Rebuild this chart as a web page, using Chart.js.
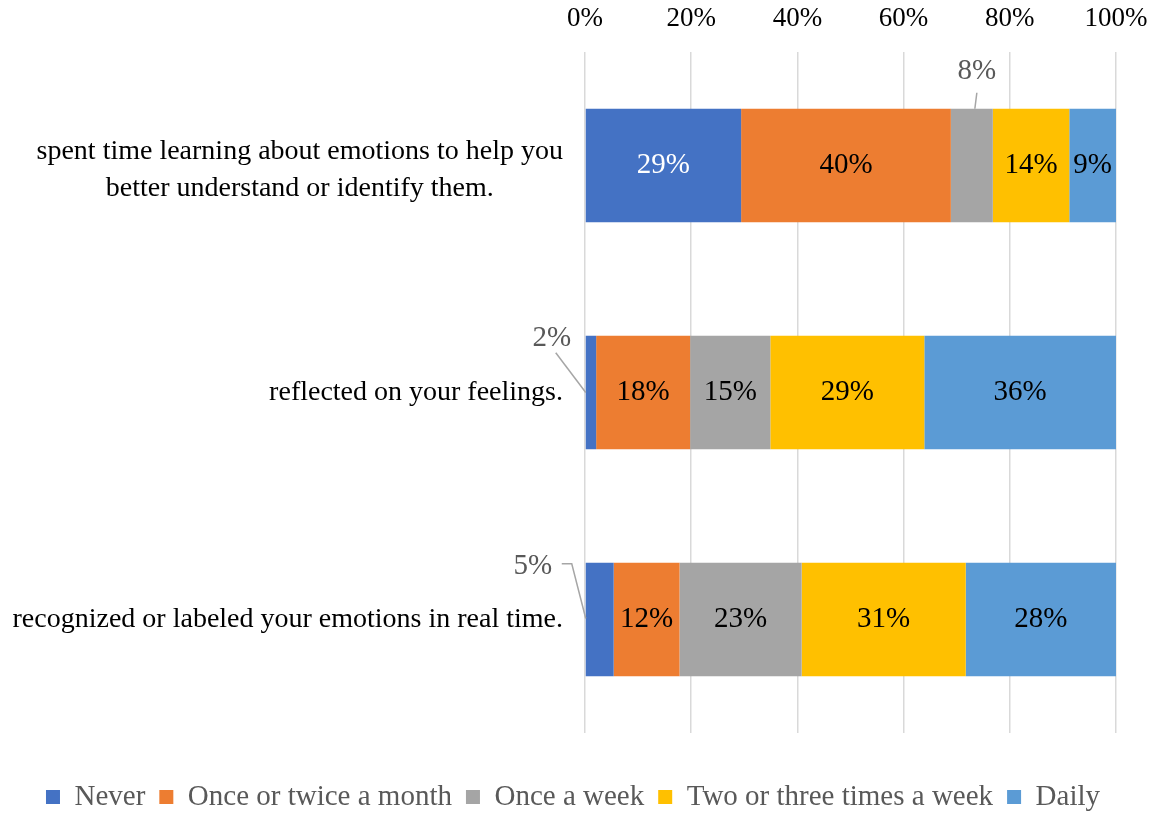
<!DOCTYPE html>
<html>
<head>
<meta charset="utf-8">
<script src="https://cdn.jsdelivr.net/npm/chart.js@4.4.1/dist/chart.umd.min.js"></script>
<style>
  html, body { margin: 0; padding: 0; background: #fff; }
  #wrap { width: 1168px; height: 813px; }
</style>
</head>
<body>
<div id="wrap"><canvas id="chart" width="1168" height="813"></canvas></div>
<script>
// categories (top to bottom) and answer shares in percent
const categories = [
    ["spent time learning about emotions to help you", "better understand or identify them."],
    ["reflected on your feelings."],
    ["recognized or labeled your emotions in real time."]
];
const seriesNames = ["Never", "Once or twice a month", "Once a week", "Two or three times a week", "Daily"];
const never          = [29.4, 2.1, 5.4];
const onceTwiceMonth = [39.5, 17.7, 12.4];
const onceWeek       = [7.9, 15.1, 23.0];
const twoThreeWeek   = [14.4, 29.0, 30.9];
const daily          = [8.8, 36.1, 28.3];
const xTicks = [0, 20, 40, 60, 80, 100];

const colors = ["#4472C4", "#ED7D31", "#A5A5A5", "#FFC000", "#5B9BD5"];
const font = "'Liberation Serif', 'Times New Roman', serif";

// small segments get their label outside with a leader line
const callouts = {
    "2-0": el => { const top = el.y - el.height / 2, cx = (el.base + el.x) / 2;
        return { lx: cx + 5, ly: top - 37, pts: [[cx + 5, top - 16], [cx + 3, top]] }; },
    "0-1": el => { const top = el.y - el.height / 2;
        return { lx: el.base - 34, ly: top + 3, pts: [[el.base - 30, top + 17], [el.base, el.y]] }; },
    "0-2": el => { const top = el.y - el.height / 2;
        return { lx: el.base - 53, ly: top + 4, pts: [[el.base - 24, top + 1], [el.base - 14, top + 1], [el.base, el.y - 1]] }; }
};

const barLabels = {
    id: "barLabels",
    afterDatasetsDraw(chart) {
        const ctx = chart.ctx;
        ctx.save();
        ctx.font = "29px " + font;
        ctx.textAlign = "center";
        ctx.textBaseline = "middle";
        chart.data.datasets.forEach((ds, di) => {
            const meta = chart.getDatasetMeta(di);
            meta.data.forEach((el, i) => {
                const txt = Math.round(ds.data[i]) + "%";
                const co = callouts[di + "-" + i];
                if (co) {
                    const c = co(el);
                    ctx.strokeStyle = "#A6A6A6";
                    ctx.lineWidth = 1.5;
                    ctx.beginPath();
                    c.pts.forEach((p, k) => k ? ctx.lineTo(p[0], p[1]) : ctx.moveTo(p[0], p[1]));
                    ctx.stroke();
                    ctx.fillStyle = "#595959";
                    ctx.fillText(txt, c.lx, c.ly);
                } else {
                    ctx.fillStyle = di === 0 ? "#ffffff" : "#000000";
                    ctx.fillText(txt, (el.base + el.x) / 2, el.y);
                }
            });
        });
        ctx.restore();
    }
};

const categoryLabels = {
    id: "categoryLabels",
    afterDraw(chart) {
        const ctx = chart.ctx;
        const yScale = chart.scales.y;
        ctx.save();
        ctx.font = "28px " + font;
        ctx.fillStyle = "#000000";
        ctx.textBaseline = "middle";
        ctx.textAlign = "center";
        const right = chart.chartArea.left - 22;
        categories.forEach((lines, i) => {
            const cy = yScale.getPixelForValue(i) + (lines.length > 1 ? 5 : 0);
            const widest = Math.max(...lines.map(l => ctx.measureText(l).width));
            const cx = right - widest / 2;
            lines.forEach((l, k) => {
                ctx.fillText(l, cx, cy + (k - (lines.length - 1) / 2) * 37);
            });
        });
        ctx.restore();
    }
};

const seriesData = [never, onceTwiceMonth, onceWeek, twoThreeWeek, daily];

new Chart(document.getElementById("chart"), {
    type: "bar",
    data: {
        labels: categories.map(c => c.join(" ")),
        datasets: seriesNames.map((name, i) => ({
            label: name,
            data: seriesData[i],
            backgroundColor: colors[i],
            borderWidth: 0,
            barPercentage: 0.5,
            categoryPercentage: 1.0
        }))
    },
    options: {
        indexAxis: "y",
        responsive: false,
        animation: false,
        layout: { padding: { left: 30, right: 52, top: 0, bottom: -8.5 } },
        scales: {
            x: {
                position: "top",
                stacked: true,
                min: 0,
                max: 100,
                afterBuildTicks: s => { s.ticks = xTicks.map(v => ({ value: v })); },
                afterFit: s => { s.height = 52; },
                ticks: {
                    callback: v => v + "%",
                    color: "#000000",
                    padding: 17,
                    font: { family: font, size: 27 }
                },
                grid: { color: "#D9D9D9", lineWidth: 1.5, drawTicks: false },
                border: { display: false }
            },
            y: {
                stacked: true,
                afterFit: s => { s.width = 555; },
                ticks: { display: false },
                grid: { display: false },
                border: { display: false }
            }
        },
        plugins: {
            title: { display: true, position: "bottom", text: "", weight: 500, padding: 0, font: { size: 35.5, lineHeight: 1 } },
            legend: {
                position: "bottom",
                labels: {
                    boxWidth: 14,
                    boxHeight: 14,
                    padding: 14,
                    color: "#595959",
                    font: { family: font, size: 29 }
                }
            },
            tooltip: { enabled: false }
        }
    },
    plugins: [barLabels, categoryLabels]
});
</script>
</body>
</html>
